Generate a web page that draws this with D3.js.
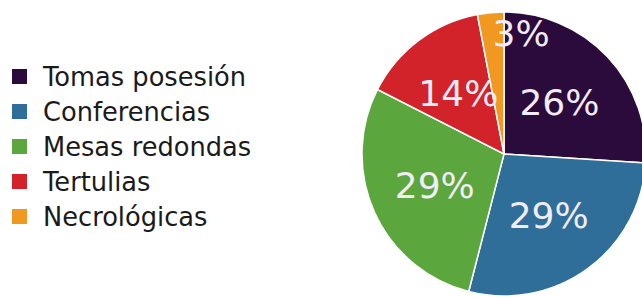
<!DOCTYPE html>
<html>
<head>
<meta charset="utf-8">
<script src="https://cdn.jsdelivr.net/npm/d3@7"></script>
<style>
  body { margin: 0; background: #fff; }
  svg { display: block; }
</style>
</head>
<body>
<svg id="pie" width="642" height="297"></svg>
<script>
var categories = ["Tomas posesión", "Conferencias", "Mesas redondas", "Tertulias", "Necrológicas"];
var values = [26, 28, 28.5, 14.5, 3];
var labels = ["26%", "29%", "29%", "14%", "3%"];
var colors = ["#2b0b3c", "#2f6e98", "#5ca63e", "#d2222a", "#f0981f"];

var svg = d3.select("#pie"),
    cx = 504, cy = 154, radius = 142;

var data = categories.map(function(c, i) { return {name: c, value: values[i], label: labels[i]}; });

var z = d3.scaleOrdinal().domain(categories).range(colors);

var pie = d3.pie().sort(null).value(function(d) { return d.value; });
var arc = d3.arc().innerRadius(0).outerRadius(radius);
var labelArc = d3.arc().innerRadius(76).outerRadius(76);
var outerLabelArc = d3.arc().innerRadius(122).outerRadius(122);

var g = svg.append("g").attr("transform", "translate(" + cx + "," + cy + ")");
var arcs = pie(data);

g.selectAll(".slice")
  .data(arcs)
  .enter().append("path")
    .attr("class", "slice")
    .attr("d", arc)
    .attr("fill", function(d) { return z(d.data.name); })
    .attr("stroke", "#fff")
    .attr("stroke-width", 1.5);

// small slices get their label pushed out and started at the centroid
g.selectAll(".pct")
  .data(arcs)
  .enter().append("text")
    .attr("class", "pct")
    .attr("transform", function(d) {
      var small = d.endAngle - d.startAngle < 0.3;
      return "translate(" + (small ? outerLabelArc : labelArc).centroid(d) + ")";
    })
    .attr("dy", "0.36em")
    .attr("text-anchor", function(d) { return d.endAngle - d.startAngle < 0.3 ? "start" : "middle"; })
    .attr("fill", "#f2ecf6")
    .style("font", "36px 'DejaVu Sans', sans-serif")
    .text(function(d) { return d.data.label; });

var legend = svg.selectAll(".legend")
  .data(categories)
  .enter().append("g")
    .attr("class", "legend")
    .attr("transform", function(d, i) { return "translate(12," + (69 + i * 35) + ")"; })
    .style("font", "25.7px 'DejaVu Sans', sans-serif");

legend.append("rect")
    .attr("width", 15)
    .attr("height", 15)
    .attr("fill", z);

legend.append("text")
    .attr("x", 31)
    .attr("y", 17)
    .attr("fill", "#1a1a1a")
    .text(function(d) { return d; });
</script>
</body>
</html>
